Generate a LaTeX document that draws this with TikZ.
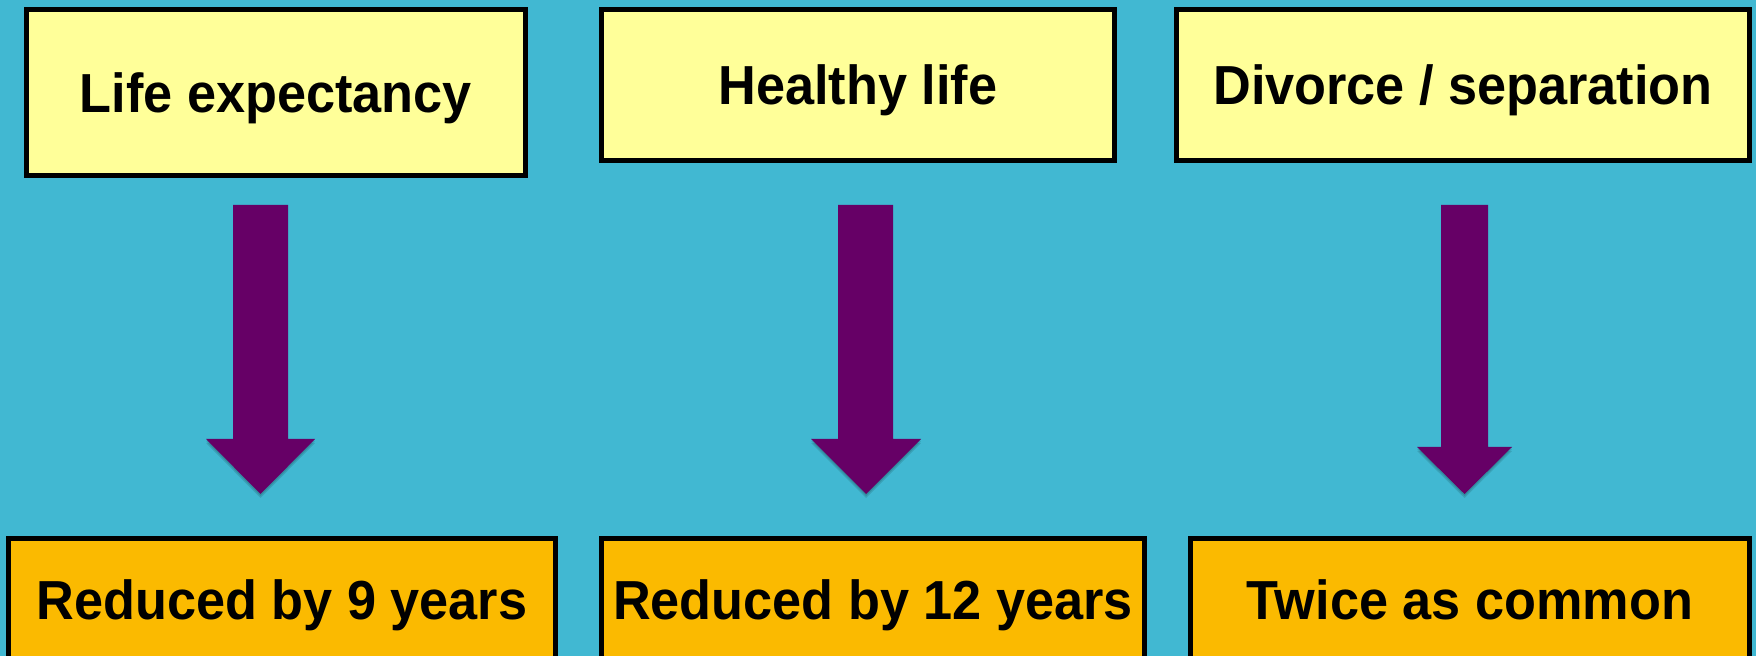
\documentclass[tikz,border=0pt]{standalone}
\usepackage{fontspec}
\setmainfont{Liberation Sans}[FakeStretch=0.95]
\definecolor{bgblue}{RGB}{65,184,210}
\definecolor{paleyellow}{RGB}{255,255,153}
\definecolor{amber}{RGB}{251,186,0}
\definecolor{plum}{RGB}{102,0,102}
\begin{document}
\begin{tikzpicture}[x=0.5pt,y=-0.5pt,
  box/.style={draw=black, line width=2.5pt, inner sep=0pt,
    font=\fontsize{27.5pt}{30pt}\selectfont\bfseries,
    text height=19.7pt, text depth=0pt},
  topbox/.style={box, fill=paleyellow},
  botbox/.style={box, fill=amber},
  blockarrow/.style={fill=plum, draw=none},
  arrowshadow/.style={fill=black, draw=none, opacity=0.12}]
\fill[bgblue] (0,0) rectangle (1756,656);
\useasboundingbox (0,0) rectangle (1756,656);
\begin{scope}
\clip (0,0) rectangle (1756,656);
% top boxes
\node[topbox, minimum width=249.5pt, minimum height=83pt] (t1) at (276,92.5) {Life expectancy};
\node[topbox, minimum width=256.5pt, minimum height=75.5pt] (t2) at (858,85) {Healthy life};
\node[topbox, minimum width=286.5pt, minimum height=75.5pt] (t3) at (1463,85) {Divorce / separation};
% bottom boxes
\node[botbox, minimum width=273.5pt, minimum height=61.5pt] (b1) at (282,600) {Reduced by 9 years};
\node[botbox, minimum width=271.5pt, minimum height=61.5pt] (b2) at (873,600) {Reduced by 12 years};
\node[botbox, minimum width=279.5pt, minimum height=61.5pt] (b3) at (1470,600) {Twice as common};
% arrow shadows
\foreach \d in {2,4} {
\fill[arrowshadow] (206,439+\d) -- (315,439+\d) -- (260.5,494+\d) -- cycle;
\fill[arrowshadow] (811,439+\d) -- (921,439+\d) -- (866,494+\d) -- cycle;
\fill[arrowshadow] (1417,447+\d) -- (1512,447+\d) -- (1464.5,494+\d) -- cycle;
}
% block arrows
\fill[blockarrow] (233,205) -- (288,205) -- (288,439) -- (315,439) -- (260.5,494) -- (206,439) -- (233,439) -- cycle;
\fill[blockarrow] (838,205) -- (893,205) -- (893,439) -- (921,439) -- (866,494) -- (811,439) -- (838,439) -- cycle;
\fill[blockarrow] (1441,205) -- (1488,205) -- (1488,447) -- (1512,447) -- (1464.5,494) -- (1417,447) -- (1441,447) -- cycle;
\end{scope}
\end{tikzpicture}
\end{document}
